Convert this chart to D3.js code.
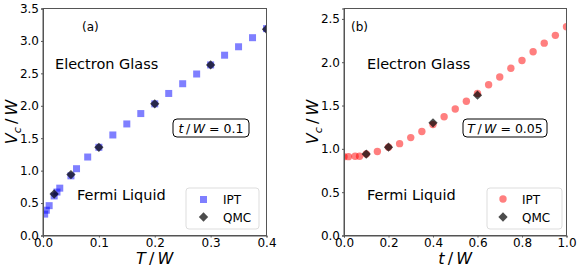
<!DOCTYPE html>
<html>
<head>
<meta charset="utf-8">
<script src="https://cdnjs.cloudflare.com/ajax/libs/d3/7.8.5/d3.min.js"></script>
<style>
 body { margin:0; background:#fff; }
 svg text { font-family:"DejaVu Sans", sans-serif; fill:#000; }
 .tick text { font-size:12px; }
 .domain { stroke:#555; }
 .tick line { stroke:#555; }
</style>
</head>
<body>
<script>
 // panel (a): V_c/W vs T/W at t/W = 0.1
 var iptT   = [0.003,0.006,0.011,0.02,0.025,0.03,0.05,0.06,0.08,0.1,0.125,0.15,0.175,0.2,0.225,0.25,0.275,0.3,0.325,0.35,0.375,0.4];
 var iptVa  = [0.33,0.39,0.46,0.61,0.67,0.73,0.92,1.03,1.21,1.36,1.55,1.72,1.88,2.03,2.19,2.34,2.49,2.63,2.78,2.91,3.05,3.19];
 var qmcT   = [0.02,0.05,0.1,0.2,0.3,0.4];
 var qmcVa  = [0.64,0.94,1.36,2.03,2.63,3.18];

 // panel (b): V_c/W vs t/W at T/W = 0.05
 var iptt   = [0.0,0.02,0.05,0.07,0.1,0.15,0.2,0.25,0.3,0.35,0.4,0.45,0.5,0.55,0.6,0.65,0.7,0.75,0.8,0.85,0.9,0.95,1.0];
 var iptVb  = [0.91,0.91,0.915,0.915,0.94,0.97,1.02,1.06,1.13,1.2,1.28,1.37,1.46,1.55,1.64,1.74,1.83,1.93,2.02,2.12,2.22,2.31,2.41];
 var qmct   = [0.1,0.2,0.4,0.6];
 var qmcVb  = [0.94,1.02,1.3,1.62];

 var ticksA_x = [0,0.1,0.2,0.3,0.4];
 var ticksA_y = [0,0.5,1,1.5,2,2.5,3,3.5];
 var ticksB_x = [0,0.2,0.4,0.6,0.8,1.0];
 var ticksB_y = [0,0.5,1,1.5,2,2.5];

 var svg = d3.select("body").append("svg")
   .attr("width", 581).attr("height", 271);

 var sl = "\u2009/\u2009";   // thin spaces round the slash, like mathtext

 function panel(opt) {
   var x = d3.scaleLinear().domain(opt.xdom).range([opt.left, opt.right]);
   var y = d3.scaleLinear().domain(opt.ydom).range([235.5, 8.5]);
   var g = svg.append("g");

   g.append("clipPath").attr("id", opt.id)
     .append("rect").attr("x", opt.left).attr("y", 8.5)
     .attr("width", opt.right - opt.left).attr("height", 227);

   var marks = g.append("g").attr("clip-path", "url(#" + opt.id + ")");
   if (opt.sym == "square") {
     marks.selectAll("rect.ipt").data(opt.ix).enter().append("rect")
       .attr("class", "ipt")
       .attr("x", function(d) { return x(d) - 3.5; })
       .attr("y", function(d, i) { return y(opt.iy[i]) - 3.5; })
       .attr("width", 7).attr("height", 7)
       .style("fill", "blue").style("opacity", 0.5);
   } else {
     marks.selectAll("circle.ipt").data(opt.ix).enter().append("circle")
       .attr("class", "ipt")
       .attr("cx", function(d) { return x(d); })
       .attr("cy", function(d, i) { return y(opt.iy[i]); })
       .attr("r", 3.7)
       .style("fill", "red").style("opacity", 0.5);
   }
   var diamond = d3.symbol().type(d3.symbolDiamond2).size(55);
   marks.selectAll("path.qmc").data(opt.qx).enter().append("path")
     .attr("class", "qmc")
     .attr("d", diamond)
     .attr("transform", function(d, i) { return "translate(" + x(d) + "," + y(opt.qy[i]) + ")"; })
     .style("fill", "#000").style("opacity", 0.7);

   // frame
   g.append("rect").attr("x", opt.left).attr("y", 8.5)
     .attr("width", opt.right - opt.left).attr("height", 227)
     .style("fill", "none").style("stroke", "#555");

   g.append("g").attr("transform", "translate(0,235.5)")
     .call(d3.axisBottom(x).tickValues(opt.xt).tickSize(2).tickPadding(1).tickFormat(d3.format(".1f")));
   g.append("g").attr("transform", "translate(" + opt.left + ",0)")
     .call(d3.axisLeft(y).tickValues(opt.yt).tickSize(2).tickPadding(2).tickFormat(d3.format(".1f")));

   // axis titles
   var xm = (opt.left + opt.right) / 2;
   var xt = g.append("text").attr("x", xm).attr("y", 264)
     .attr("text-anchor", "middle").style("font-size", "16px");
   xt.append("tspan").style("font-style", "italic").text(opt.xvar);
   xt.append("tspan").text(sl);
   xt.append("tspan").style("font-style", "italic").text("W");

   var yt = g.append("text").attr("transform", "translate(" + (opt.left - 26) + ",122) rotate(-90)")
     .attr("text-anchor", "middle").style("font-size", "16px");
   yt.append("tspan").style("font-style", "italic").text("V");
   yt.append("tspan").style("font-style", "italic").style("font-size", "11px").attr("dy", 4).text("c");
   yt.append("tspan").attr("dy", -4).text(sl);
   yt.append("tspan").style("font-style", "italic").text("W");

   // annotations
   g.append("text").attr("x", opt.lx).attr("y", 31).style("font-size", "12px").text(opt.tag);
   g.append("text").attr("x", opt.egx).attr("y", 69).style("font-size", "14.5px").text("Electron Glass");
   g.append("text").attr("x", opt.egx + (opt.id == "ca" ? 22 : 0)).attr("y", 200).style("font-size", "14.5px").text("Fermi Liquid");

   // parameter box
   g.append("rect").attr("x", opt.bx).attr("y", 119).attr("width", opt.bw).attr("height", 18)
     .attr("rx", 4).style("fill", "#fff").style("stroke", "#000");
   var pt = g.append("text").attr("x", opt.bx + opt.bw / 2).attr("y", 132.5)
     .attr("text-anchor", "middle").style("font-size", "12.5px");
   pt.append("tspan").style("font-style", "italic").text(opt.pvar);
   pt.append("tspan").text(sl);
   pt.append("tspan").style("font-style", "italic").text("W");
   pt.append("tspan").text(" = " + opt.pval);

   // legend
   var lg = g.append("g").attr("transform", "translate(" + opt.lgx + ",188)");
   lg.append("rect").attr("width", opt.lgw).attr("height", 41).attr("rx", 3)
     .style("fill", "#fff").style("stroke", "#ddd");
   if (opt.sym == "square") {
     lg.append("rect").attr("x", 14).attr("y", 8).attr("width", 7).attr("height", 7)
       .style("fill", "blue").style("opacity", 0.5);
   } else {
     lg.append("circle").attr("cx", 16).attr("cy", 11).attr("r", 3.7)
       .style("fill", "red").style("opacity", 0.5);
   }
   lg.append("path").attr("d", diamond).attr("transform", "translate(" + (opt.sym == "square" ? 17.5 : 16) + ",29)")
     .style("fill", "#000").style("opacity", 0.7);
   lg.append("text").attr("x", opt.lgt).attr("y", 16).style("font-size", "12px").text("IPT");
   lg.append("text").attr("x", opt.lgt).attr("y", 34).style("font-size", "12px").text("QMC");
 }

 panel({id:"ca", left:43, right:266.5, xdom:[0,0.4], ydom:[0,3.5],
        xt:ticksA_x, yt:ticksA_y, sym:"square",
        ix:iptT, iy:iptVa, qx:qmcT, qy:qmcVa,
        xvar:"T", tag:"(a)", lx:82, egx:55,
        bx:173, bw:76, pvar:"t", pval:"0.1",
        lgx:186, lgw:73, lgt:37});
 panel({id:"cb", left:344, right:566.5, xdom:[0,1], ydom:[0,2.62],
        xt:ticksB_x, yt:ticksB_y, sym:"circle",
        ix:iptt, iy:iptVb, qx:qmct, qy:qmcVb,
        xvar:"t", tag:"(b)", lx:351, egx:367,
        bx:463, bw:84, pvar:"T", pval:"0.05",
        lgx:487, lgw:75, lgt:35});
</script>
</body>
</html>
